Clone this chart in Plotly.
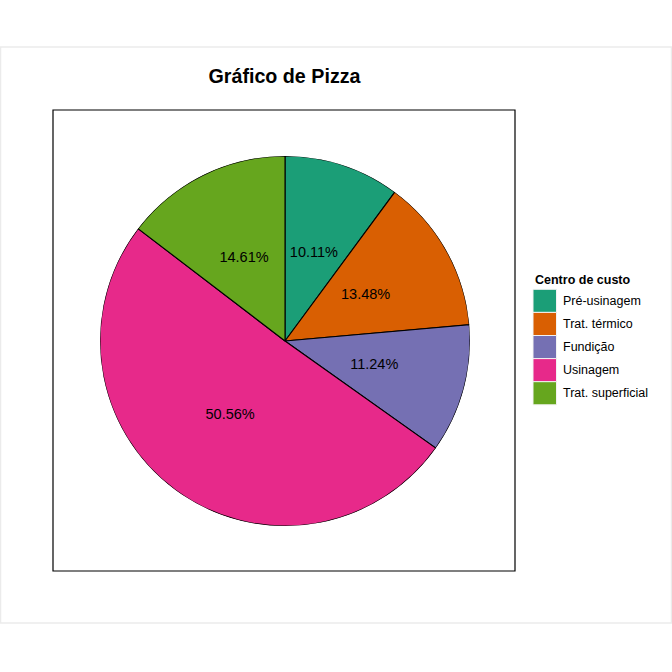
import numpy as np
import plotly.graph_objects as go

categories = ["Pré-usinagem", "Trat. térmico", "Fundição", "Usinagem", "Trat. superficial"]
counts = [9, 12, 10, 45, 13]
colors = ["#1B9E77", "#D95F02", "#7570B3", "#E7298A", "#66A61E"]
title = "Gráfico de Pizza"
legend_title = "Centro de custo"

vals = np.array(counts, dtype=float)
total = vals.sum()
widths = vals / total * 360.0
ends = np.cumsum(widths)
mids = ends - widths / 2
pct = [f"{v / total * 100:.2f}%" for v in vals]

W = H = 672


def px(x):
    return x / W


def py(y):
    return 1 - y / H


FONT = "Liberation Sans, Arial"
fig = go.Figure()
for i, cat in enumerate(categories):
    fig.add_trace(go.Barpolar(
        r=[1], theta=[mids[i]], width=[widths[i]], name=cat,
        marker=dict(color=colors[i], line=dict(color="black", width=1.1)),
        hoverinfo="name", showlegend=False,
    ))
fig.add_trace(go.Scatterpolar(
    r=[0.5] * len(categories), theta=list(mids), mode="text", text=pct,
    textfont=dict(family=FONT, size=14.5, color="black"),
    showlegend=False, hoverinfo="skip",
))

# legend (drawn as keys + labels)
key_x0, key_x1 = 533, 556.5
key_top, key_h = 289.3, 23.1
shapes = [
    dict(type="rect", xref="paper", yref="paper", x0=px(0.5), x1=px(671.5), y0=py(623), y1=py(47),
         line=dict(color="#EBEBEB", width=1.5), layer="below"),
    dict(type="rect", xref="paper", yref="paper", x0=px(53), x1=px(515), y0=py(571), y1=py(110),
         line=dict(color="black", width=1.2), layer="below"),
]
annotations = [
    dict(text=f"<b>{legend_title}</b>", xref="paper", yref="paper", x=px(533), y=py(280),
         xanchor="left", yanchor="middle", showarrow=False,
         font=dict(family=FONT, size=12.5, color="black")),
]
for i, cat in enumerate(categories):
    y0 = key_top + i * key_h
    shapes.append(dict(type="rect", xref="paper", yref="paper",
                       x0=px(key_x0), x1=px(key_x1), y0=py(y0 + key_h), y1=py(y0),
                       fillcolor=colors[i], line=dict(color="#F2F2F2", width=1)))
    annotations.append(dict(text=cat, xref="paper", yref="paper", x=px(560.5), y=py(y0 + key_h / 2),
                            xanchor="left", yanchor="middle", showarrow=False,
                            font=dict(family=FONT, size=12.5, color="black")))

fig.update_layout(
    width=W, height=H,
    margin=dict(l=0, r=0, t=0, b=0),
    paper_bgcolor="white",
    font=dict(family=FONT, color="black"),
    showlegend=False,
    title=dict(text=f"<b>{title}</b>", x=px(284.5), xanchor="center", y=py(76.5), yanchor="middle",
               font=dict(size=19.7, family=FONT, color="black")),
    polar=dict(
        domain=dict(x=[px(100), px(470)], y=[py(526), py(156)]),
        bgcolor="white",
        radialaxis=dict(visible=False, range=[0, 1]),
        angularaxis=dict(visible=False, direction="clockwise", rotation=90),
        bargap=0,
    ),
    shapes=shapes,
    annotations=annotations,
)

fig.write_html("out.html", config={"displayModeBar": False},
               post_script="document.body.style.margin='0px';document.body.style.overflow='hidden';")
